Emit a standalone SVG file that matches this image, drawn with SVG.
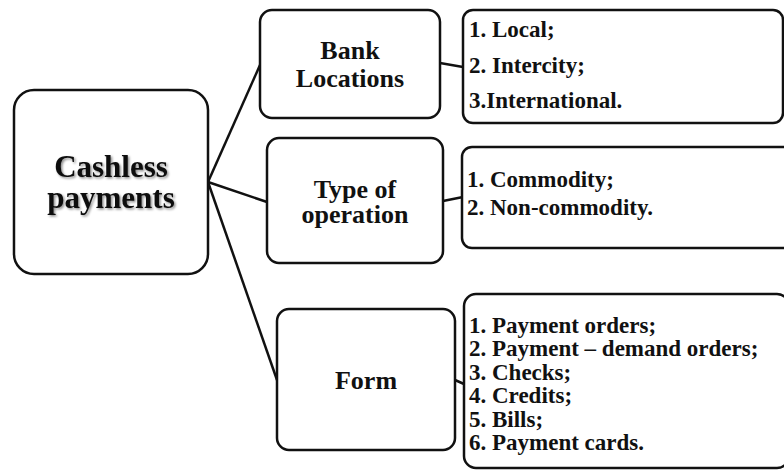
<svg xmlns="http://www.w3.org/2000/svg" width="784" height="472" viewBox="0 0 784 472">
<style>
.box{fill:#fff;stroke:#111;stroke-width:2.5}
.con{stroke:#111;stroke-width:2.5;fill:none}
.t{font-family:"Liberation Serif","Times New Roman",serif;font-weight:bold;fill:#111}
.title{font-size:26px;text-anchor:middle}
.main{font-size:31px;text-anchor:middle}
.item{font-size:23px}
</style>
<defs>
<filter id="sh" x="-10%" y="-10%" width="130%" height="140%">
<feDropShadow dx="1.5" dy="1.5" stdDeviation="1.2" flood-color="#000" flood-opacity="0.45"/>
</filter>
</defs>
<rect width="784" height="472" fill="#fff"/>
<g id="connectors">
<line class="con" x1="208" y1="182" x2="260" y2="65"/>
<line class="con" x1="208" y1="182" x2="267" y2="202"/>
<line class="con" x1="208" y1="182" x2="277" y2="380"/>
<line class="con" x1="440" y1="63" x2="463" y2="67"/>
<line class="con" x1="443" y1="201" x2="463" y2="197"/>
<line class="con" x1="455" y1="380" x2="464" y2="384"/>
</g>
<g id="cashless">
<rect class="box" x="14" y="90" width="194" height="184" rx="20"/>
<g filter="url(#sh)">
<text class="t main" x="111" y="177">Cashless</text>
<text class="t main" x="111" y="208">payments</text>
</g>
</g>
<g id="bank">
<rect class="box" x="260" y="10" width="180" height="108" rx="12"/>
<text class="t title" x="350" y="59">Bank</text>
<text class="t title" x="350" y="87">Locations</text>
</g>
<g id="type">
<rect class="box" x="267" y="138" width="176" height="125" rx="12"/>
<text class="t title" x="355" y="198">Type of</text>
<text class="t title" x="355" y="223">operation</text>
</g>
<g id="form">
<rect class="box" x="277" y="309" width="178" height="141" rx="12"/>
<text class="t title" x="366" y="389">Form</text>
</g>
<g id="list1">
<rect class="box" x="463" y="10" width="320" height="113" rx="10"/>
<text class="t item" x="469" y="37">1. Local;</text>
<text class="t item" x="469" y="73">2. Intercity;</text>
<text class="t item" x="469" y="108">3.International.</text>
</g>
<g id="list2">
<rect class="box" x="462" y="147" width="340" height="101" rx="10"/>
<text class="t item" x="467" y="187">1. Commodity;</text>
<text class="t item" x="467" y="215">2. Non-commodity.</text>
</g>
<g id="list3">
<rect class="box" x="464" y="294" width="325" height="174" rx="12"/>
<text class="t item" x="469" y="333">1. Payment orders;</text>
<text class="t item" x="469" y="356.4">2. Payment – demand orders;</text>
<text class="t item" x="469" y="379.8">3. Checks;</text>
<text class="t item" x="469" y="403.2">4. Credits;</text>
<text class="t item" x="469" y="426.6">5. Bills;</text>
<text class="t item" x="469" y="450">6. Payment cards.</text>
</g>
</svg>
